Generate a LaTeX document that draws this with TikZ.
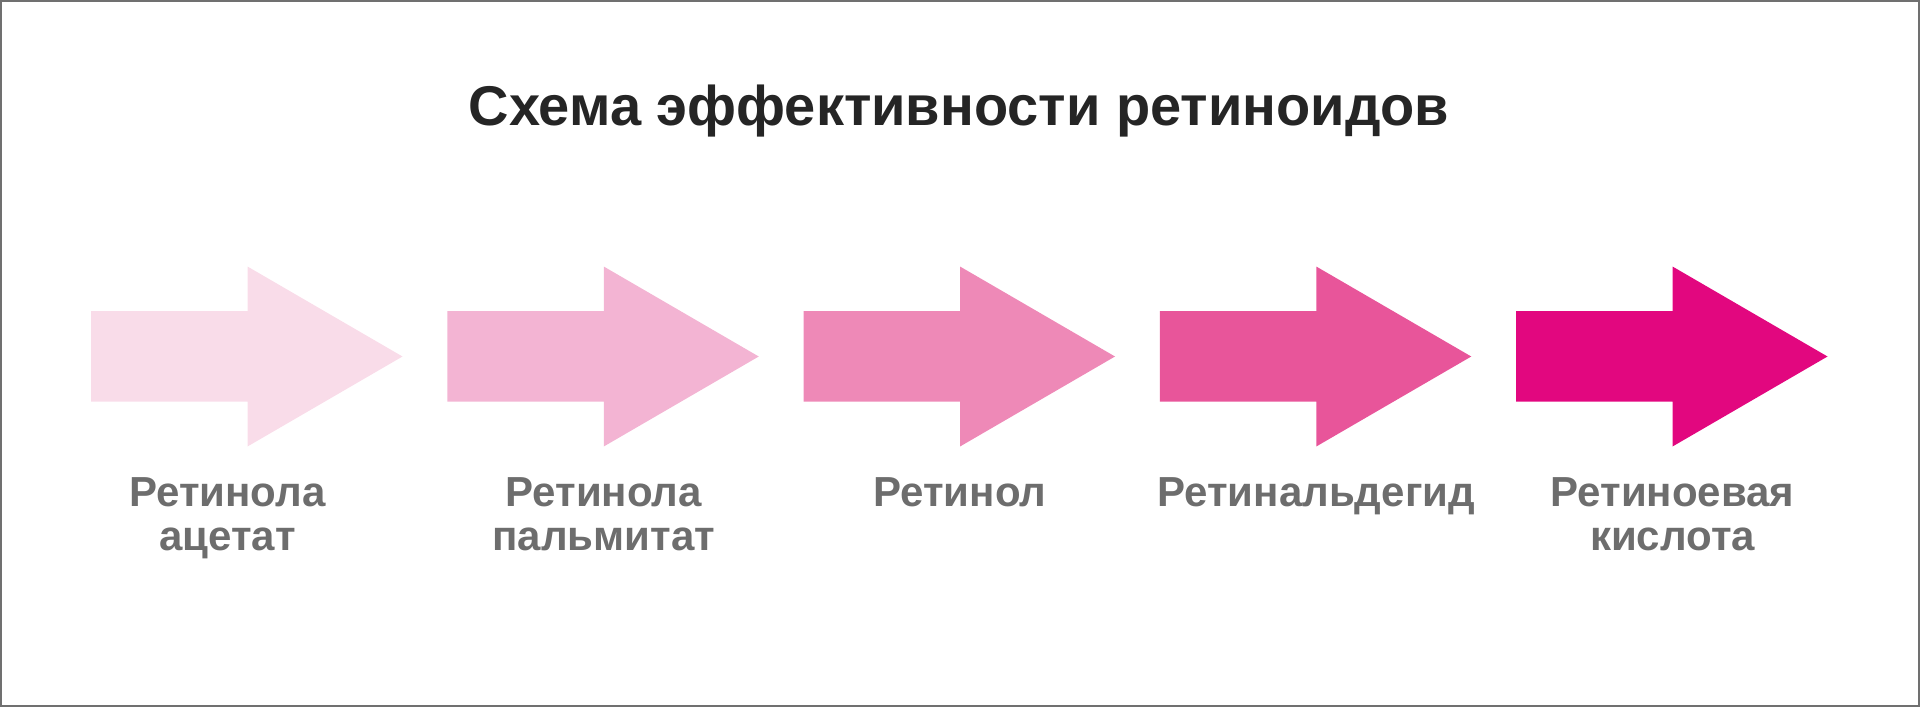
\documentclass[tikz,border=0pt]{standalone}
\usepackage{fontspec}
\setmainfont{Liberation Sans}
\usepackage{xcolor}
\usetikzlibrary{positioning}
\definecolor{tone0}{HTML}{F9DCE9}
\definecolor{tone1}{HTML}{F3B4D3}
\definecolor{tone2}{HTML}{EE89B7}
\definecolor{tone3}{HTML}{E8559A}
\definecolor{tone4}{HTML}{E2077F}
\definecolor{namegray}{HTML}{6D6D6D}
\definecolor{titlegray}{HTML}{252525}
\definecolor{framegray}{HTML}{707070}
\tikzstyle{heading} = [font=\fontsize{28}{34}\selectfont\bfseries, text=titlegray, inner sep=0pt]
\tikzstyle{namebox} = [font=\fontsize{21}{22}\selectfont\bfseries, text=namegray, align=center, inner sep=0pt, anchor=north]
\tikzstyle{frame} = [draw=framegray, line width=1pt]

\begin{document}
\begin{tikzpicture}[x=0.5pt, y=-0.5pt, node distance=15.5pt]
                    \useasboundingbox (0,0) rectangle (1920,707);
                    \draw [frame] (1,1) rectangle (1919,706);
                    \node (title) [heading, anchor=base] at (959,125) {Схема эффективности ретиноидов};
                    % arrows, lightest to darkest
                    \foreach \i in {0,...,4} {
                        \begin{scope}[shift={(\i*356.25,0)}]
                            \fill [tone\i] (91,311) -- (247.5,311) -- (247.5,266.5) -- (402.5,356.5)
                                -- (247.5,446.5) -- (247.5,401.5) -- (91,401.5) -- cycle;
                            \coordinate (base\i) at (247.5,446.5);
                        \end{scope}
                    }
                    \node (acetate) [namebox, below=of base0, xshift=-10pt] {Ретинола\\ацетат};
                    \node (palmitate) [namebox, below=of base1] {Ретинола\\пальмитат};
                    \node (retinol) [namebox, below=of base2] {Ретинол};
                    \node (retinal) [namebox, below=of base3] {Ретинальдегид};
                    \node (acid) [namebox, below=of base4] {Ретиноевая\\кислота};
                \end{tikzpicture}
\end{document}
